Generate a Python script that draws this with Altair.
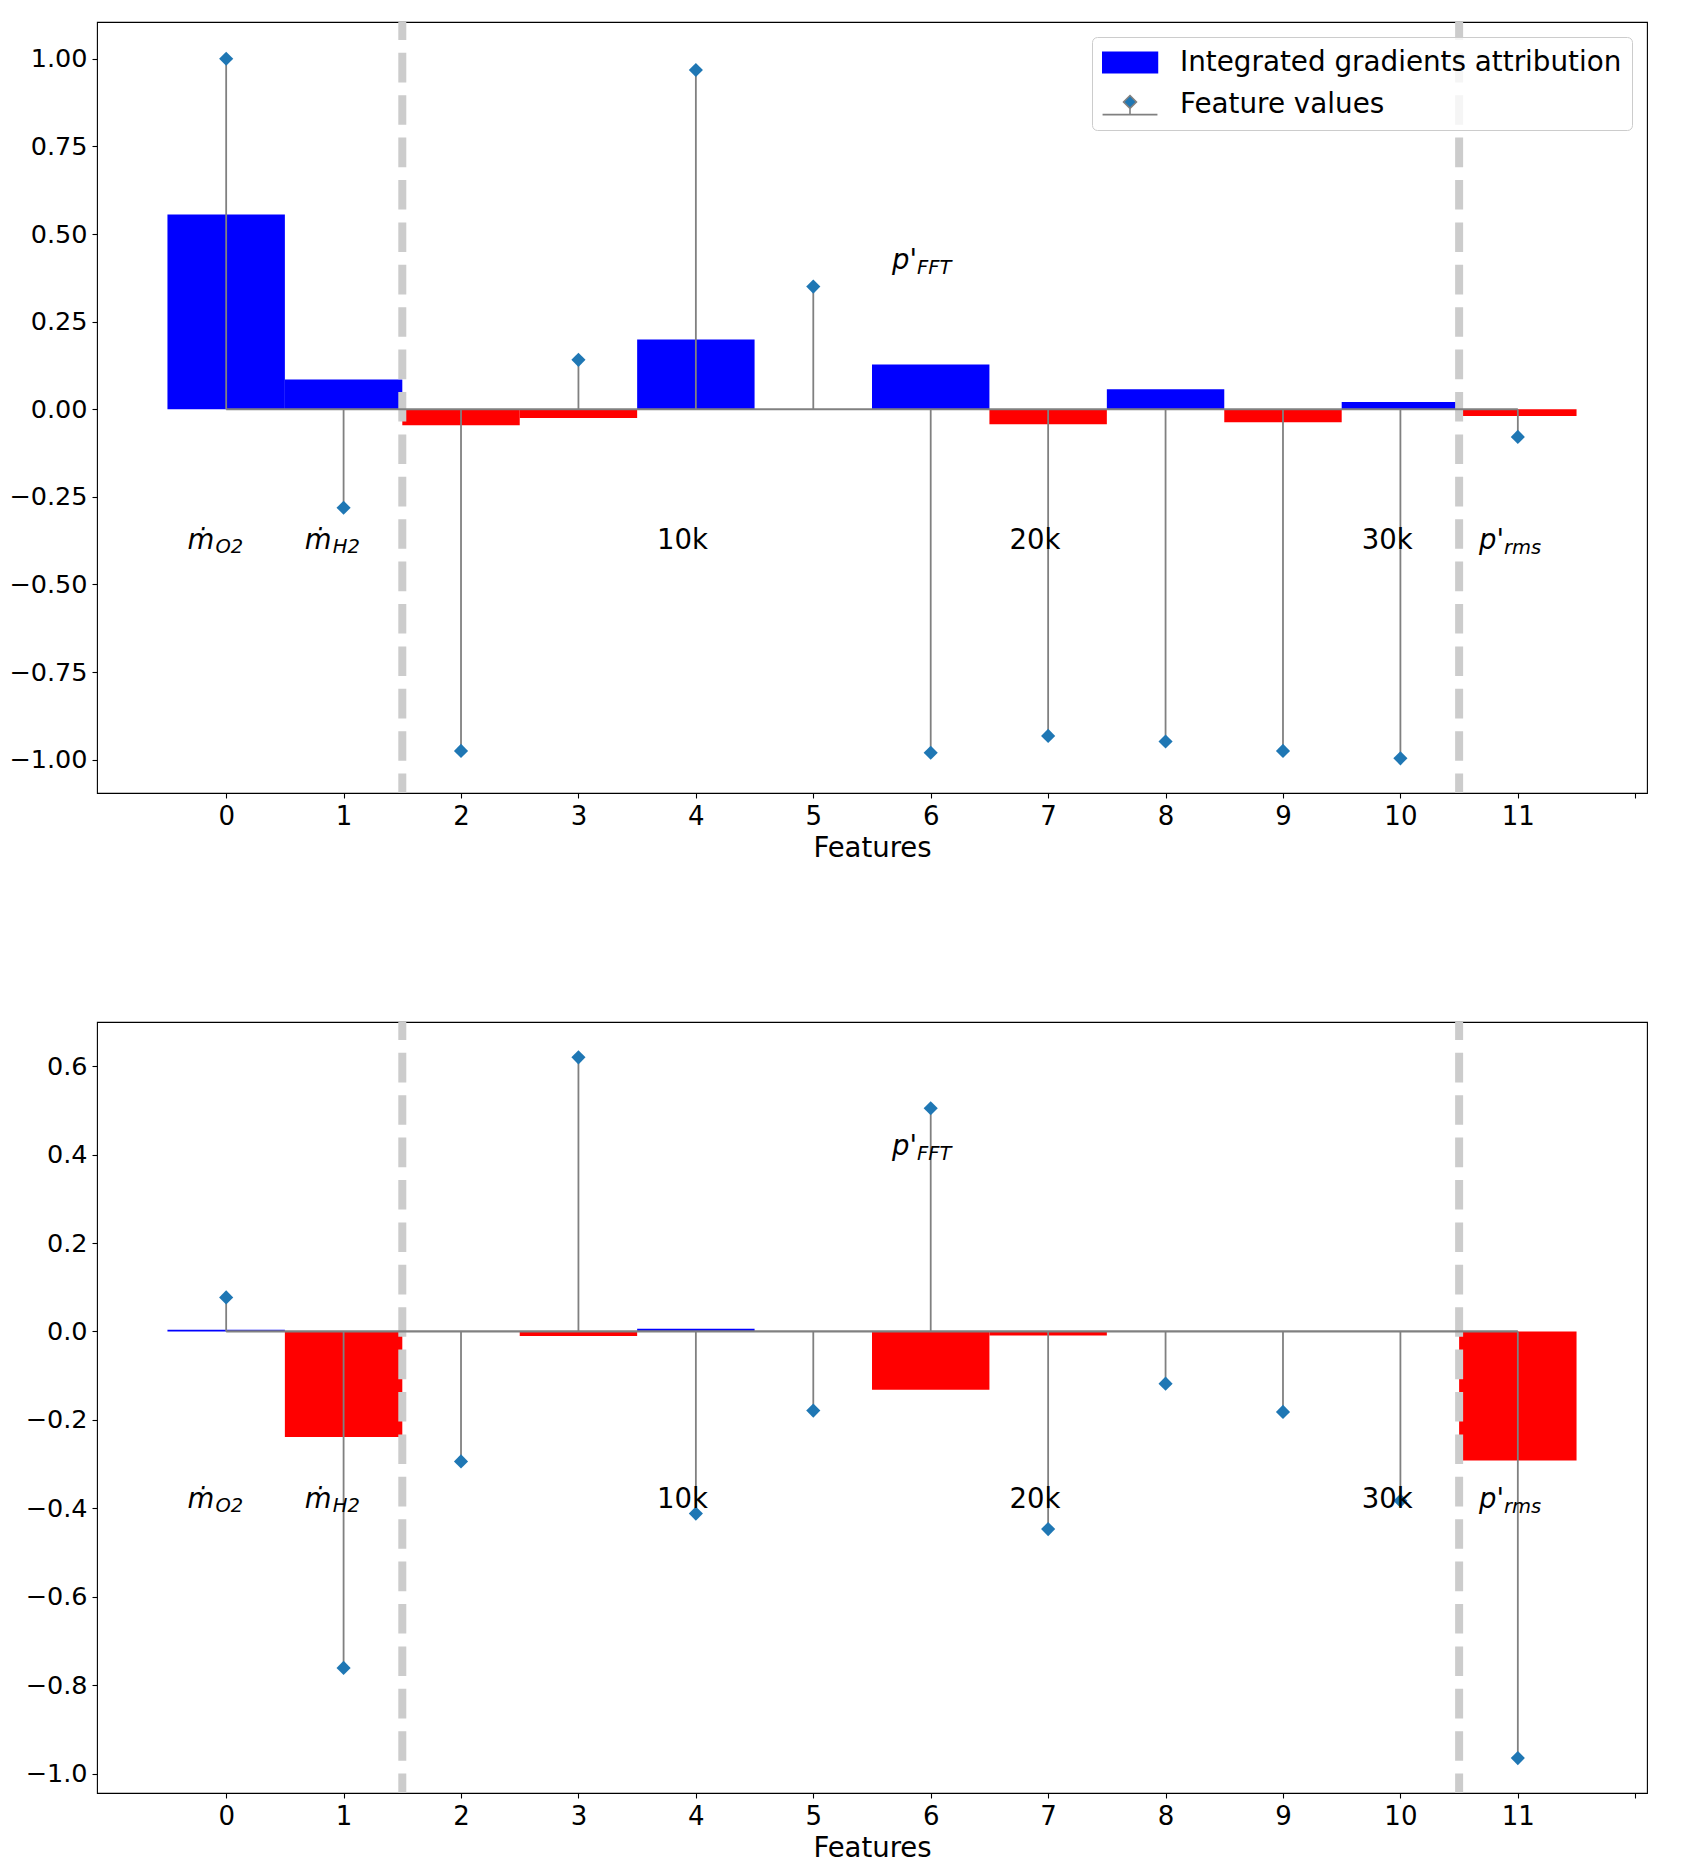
import altair as alt
import pandas as pd

# ---------------- data ----------------
features = list(range(12))
ig_top = [0.556, 0.085, -0.046, -0.025, 0.199, 0.0, 0.128, -0.043, 0.057, -0.037, 0.021, -0.019]
fv_top = [1.0, -0.281, -0.975, 0.141, 0.968, 0.350, -0.980, -0.932, -0.948, -0.975, -0.996, -0.079]
ig_bot = [0.004, -0.239, 0.0, -0.010, 0.006, 0.0, -0.132, -0.009, 0.0, 0.0, 0.0, -0.292]
fv_bot = [0.077, -0.761, -0.294, 0.620, -0.412, -0.179, 0.505, -0.447, -0.118, -0.182, -0.383, -0.965]

separators = [1.5, 10.5]
x_ticks = list(range(13))
top_ticks = [-1.0, -0.75, -0.5, -0.25, 0.0, 0.25, 0.5, 0.75, 1.0]
bot_ticks = [-1.0, -0.8, -0.6, -0.4, -0.2, 0.0, 0.2, 0.4, 0.6]
top_domain = [-1.095, 1.105]
bot_domain = [-1.044, 0.70]
x_domain = [-1.1, 12.1]
series = ["Integrated gradients attribution", "Feature values"]

# annotations (main symbol + subscript)
m_text = ["ṁ", "ṁ"]
m_sub = ["O2", "H2"]
m_x = [-0.33, 0.67]
m_y = [-0.4, -0.4]
p_text = ["p'", "p'"]
p_sub = ["FFT", "rms"]
p_x = [5.67, 10.67]
p_y = [0.4, -0.4]
k_text = ["10k", "20k", "30k"]
k_x = [3.67, 6.67, 9.67]
k_y = [-0.4, -0.4, -0.4]

RECT_PATH = "M-0.98,-0.36L0.98,-0.36L0.98,0.36L-0.98,0.36Z"
STEM_PATH = ("M-0.98,0.36L0.98,0.36M0,0.36L0,0.14"
             "M0,-0.32L0.23,-0.09L0,0.14L-0.23,-0.09Z")

FONT = "DejaVu Sans"
W, H = 1550, 771


def panel(ig, fv, ydom, yticks, yfmt, with_legend):
    base = pd.DataFrame({"feature": features, "ig": ig, "fv": fv})
    xs = alt.Scale(domain=x_domain, nice=False, zero=False)
    ys = alt.Scale(domain=ydom, nice=False, zero=False)
    xax = alt.Axis(values=x_ticks, format="d",
                   labelExpr="datum.value == 12 ? '' : datum.label",
                   title="Features", labelPadding=5, titlePadding=5.5)
    yax = alt.Axis(values=yticks, format=yfmt, labelPadding=5,
                   labelFontSize=25.5, minExtent=86, maxExtent=86)

    def X(field):
        return alt.X(field, type="quantitative", scale=xs, axis=xax)

    def Y(field):
        return alt.Y(field, type="quantitative", scale=ys, axis=yax, title=None)

    bars = alt.Chart(base).transform_calculate(
        x0="datum.feature - 0.5", x1="datum.feature + 0.5"
    ).mark_bar(strokeWidth=0).encode(
        x=X("x0"), x2="x1:Q", y=Y("ig"), y2=alt.datum(0),
        color=alt.condition("datum.ig > 0", alt.value("#0000ff"), alt.value("#ff0000")),
    )

    seps = alt.Chart(pd.DataFrame({"sep": separators})).mark_rule(
        color="#cccccc", strokeWidth=8, strokeDash=[29.6, 12.8], strokeDashOffset=11.6
    ).encode(x=X("sep"))

    stems = alt.Chart(base).mark_rule(color="#808080", strokeWidth=1.8).encode(
        x=X("feature"), y=Y("fv"), y2=alt.datum(0)
    )

    baseline = alt.Chart(base).transform_aggregate(
        lo="min(feature)", hi="max(feature)"
    ).mark_rule(color="#808080", strokeWidth=2.2).encode(
        x=X("lo"), x2="hi:Q", y=alt.Y(datum=0, scale=ys, axis=yax, title=None)
    )

    dots = alt.Chart(base).mark_point(
        shape="diamond", filled=True, size=200, color="#1f77b4", opacity=1, strokeWidth=0
    ).encode(x=X("feature"), y=Y("fv"))

    mdf = pd.DataFrame({"t": m_text, "s": m_sub, "x": m_x, "y": m_y})
    pdf = pd.DataFrame({"t": p_text, "s": p_sub, "x": p_x, "y": p_y})
    kdf = pd.DataFrame({"t": k_text, "x": k_x, "y": k_y})

    def txt(df, field, size, style, dx=0, dy=0):
        return alt.Chart(df).mark_text(
            align="left", baseline="alphabetic", font=FONT, fontSize=size,
            fontStyle=style, color="black", dx=dx, dy=dy
        ).encode(x=X("x"), y=Y("y"), text=f"{field}:N")

    texts = [
        txt(mdf, "t", 27.5, "italic"),
        txt(mdf, "s", 19.5, "italic", dx=28, dy=4),
        txt(pdf, "t", 27.5, "italic"),
        txt(pdf, "s", 19.5, "italic", dx=25, dy=5),
        txt(kdf, "t", 27.5, "normal"),
    ]

    layers = [bars, seps, stems, baseline, dots] + texts

    if with_legend:
        long = pd.DataFrame({
            "feature": features + features,
            "value": list(ig) + list(fv),
            "series": [series[0]] * len(features) + [series[1]] * len(features),
        })
        leg = alt.Legend(
            title=None, orient="top-right", offset=15,
            labelFont=FONT, labelFontSize=27.8, labelColor="black", labelLimit=0,
            symbolSize=3136, symbolOpacity=1, symbolStrokeWidth=1.6, symbolOffset=-1,
            labelOffset=21, clipHeight=31, rowPadding=11, padding=10,
            fillColor="rgba(255,255,255,0.8)", strokeColor="#cccccc", cornerRadius=5,
        )
        hidden = alt.Chart(long).mark_point(filled=True, opacity=0).encode(
            x=X("feature"), y=Y("value"),
            color=alt.Color("series:N", scale=alt.Scale(domain=series, range=["#0000ff", "#1f77b4"]), legend=leg),
            stroke=alt.Stroke("series:N", scale=alt.Scale(domain=series, range=["#0000ff", "#808080"]), legend=leg),
            shape=alt.Shape("series:N", scale=alt.Scale(domain=series, range=[RECT_PATH, STEM_PATH]), legend=leg),
        )
        layers.append(hidden)

    return alt.layer(*layers).properties(width=W, height=H)


top = panel(ig_top, fv_top, top_domain, top_ticks, ".2f", True)
bot = panel(ig_bot, fv_bot, bot_domain, bot_ticks, ".1f", False)

chart = alt.vconcat(top, bot, spacing=154).resolve_scale(
    x="independent", y="independent", color="independent",
    shape="independent", stroke="independent"
).properties(
    padding={"left": 0, "top": 9, "right": 5, "bottom": 5},
    background="white",
).configure_view(
    stroke="black", strokeWidth=1.1
).configure_axis(
    labelFont=FONT, labelFontSize=26, labelColor="black",
    titleFont=FONT, titleFontSize=27.5, titleFontWeight="normal", titleColor="black",
    tickColor="black", tickSize=5, tickWidth=1.1, domain=False, grid=False,
)

chart.save("out.html", embed_options={"renderer": "svg", "actions": False})
